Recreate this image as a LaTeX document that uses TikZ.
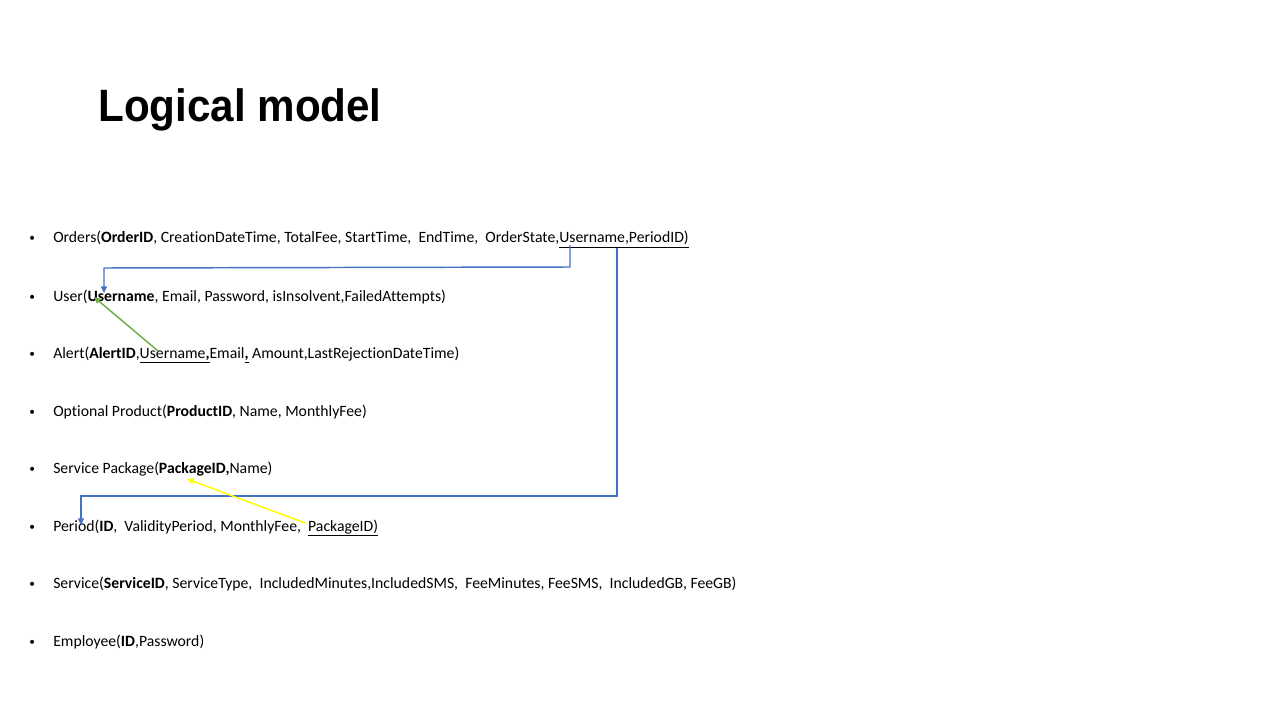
\documentclass[tikz,border=0pt]{standalone}
\usepackage{fontspec}
\setmainfont{Carlito}[Ligatures=NoCommon]
\newfontfamily\titlefont{Liberation Sans}
\usetikzlibrary{arrows.meta}
\definecolor{pblue}{HTML}{4472C4}
\definecolor{pgreen}{HTML}{70AD47}
\definecolor{pyellow}{HTML}{FFFF00}
\begin{document}
\begin{tikzpicture}[x=0.75pt,y=-0.75pt,
  row/.style={anchor=base west,inner sep=0pt,font=\fontsize{11.8}{14}\selectfont},
  bul/.style={anchor=base west,inner sep=0pt,font=\fontsize{8.5}{10}\selectfont},
  link/.style={line width=1.1pt,-{Triangle[length=5pt,width=4.5pt]}}]
\useasboundingbox[fill=white] (0,0) rectangle (1280,720);
\node[anchor=base west,inner sep=0pt,xscale=0.93,font=\titlefont\bfseries\fontsize{34}{40}\selectfont] (title) at (98,122) {Logical model};
\foreach \n/\y in {1/242,2/300,3/357,4/415,5/472,6/530,7/587,8/645}
  \node[bul] (b\n) at (29,\y) {•};
\node[row] (orders) at (53,243) {Orders(\textbf{OrderID}, CreationDateTime, TotalFee, StartTime,\ \ EndTime,\ \ OrderState,\underline{Username,PeriodID)}};
\node[row] (user) at (53,301) {User(\textbf{Username}, Email, Password, isInsolvent,FailedAttempts)};
\node[row] (alert) at (53,358) {Alert(\textbf{AlertID},\underline{Username\textbf{,}}Email\underline{\textbf{,}}\ Amount,LastRejectionDateTime)};
\node[row] (optional) at (53,416) {Optional Product(\textbf{ProductID}, Name, MonthlyFee)};
\node[row] (package) at (53,473) {Service Package(\textbf{PackageID,}Name)};
\node[row] (period) at (53,531) {Period(\textbf{ID},\ \ ValidityPeriod, MonthlyFee,\ \ \underline{PackageID)}};
\node[row] (service) at (53,588) {Service(\textbf{ServiceID}, ServiceType,\ \ IncludedMinutes,IncludedSMS,\ \ FeeMinutes, FeeSMS,\ \ IncludedGB, FeeGB)};
\node[row] (employee) at (53,646) {Employee(\textbf{ID},Password)};
% connector end points
\coordinate (oUser) at (570,245);
\coordinate (uUser) at (104,293);
\coordinate (oPer) at (617,248);
\coordinate (pPer) at (81,525);
\coordinate (aUser) at (158,351);
\coordinate (uKey) at (94,297);
\coordinate (pPkg) at (305,523);
\coordinate (sPkg) at (187,479);
\draw[link,pblue] (oUser) -- (570,267) -- (104,268) -- (uUser);
\draw[link,pblue] (oPer) -- (617,496) -- (81,496) -- (pPer);
\draw[link,pgreen] (aUser) -- (uKey);
\draw[link,pyellow] (pPkg) -- (sPkg);
\end{tikzpicture}
\end{document}
